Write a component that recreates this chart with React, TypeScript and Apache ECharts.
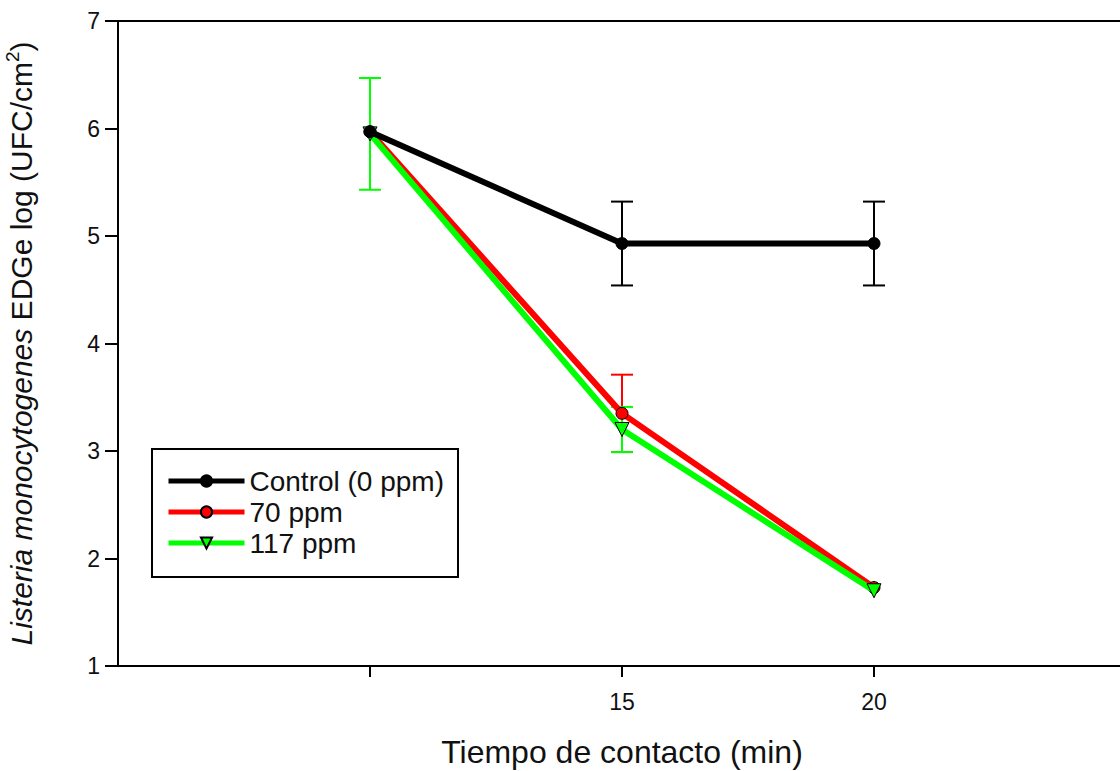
import React, { useEffect, useRef } from "react";
import * as echarts from "echarts";

const xValues = [10, 15, 20];
const controlMean = [5.97, 4.93, 4.93];
const controlErr = [0, 0.39, 0.39];
const ppm70Mean = [5.97, 3.35, 1.73];
const ppm70Err = [0, 0.36, 0];
const ppm117Mean = [5.95, 3.2, 1.7];
const ppm117Err = [0.52, 0.21, 0];
const seriesNames = ["Control (0 ppm)", "70 ppm", "117 ppm"];
const xTickValues = [10, 15, 20];
const xLabelValues = [15, 20];

const FONT = "Liberation Sans, Arial, sans-serif";
const TXT = "#111";

function errorSeries(name: string, means: number[], errs: number[], color: string, z: number) {
  const data = xValues
    .map((x, i) => [x, means[i] - errs[i], means[i] + errs[i]])
    .filter((_, i) => errs[i] > 0);
  return {
    type: "custom",
    name: name + " err",
    z,
    silent: true,
    data,
    encode: { x: 0, y: [1, 2] },
    renderItem: (params: any, api: any) => {
      const x = api.value(0);
      const lo = api.coord([x, api.value(1)]);
      const hi = api.coord([x, api.value(2)]);
      const half = 11;
      const style = { stroke: color, lineWidth: 2 };
      return {
        type: "group",
        children: [
          { type: "line", shape: { x1: lo[0], y1: lo[1], x2: hi[0], y2: hi[1] }, style },
          { type: "line", shape: { x1: lo[0] - half, y1: lo[1], x2: lo[0] + half, y2: lo[1] }, style },
          { type: "line", shape: { x1: hi[0] - half, y1: hi[1], x2: hi[0] + half, y2: hi[1] }, style },
        ],
      };
    },
  };
}

function lineSeries(name: string, means: number[], color: string, symbol: string, size: number, z: number, rotate = 0) {
  return {
    type: "line",
    name,
    z,
    data: xValues.map((x, i) => [x, means[i]]),
    symbol,
    symbolSize: size,
    symbolRotate: rotate,
    showAllSymbol: true,
    lineStyle: { color, width: 6 },
    itemStyle: { color, borderColor: "#000", borderWidth: 1, opacity: 1 },
  };
}

export default function App() {
  const ref = useRef<HTMLDivElement>(null);
  useEffect(() => {
    document.body.style.margin = "0";
    const chart = echarts.init(ref.current!, undefined, { renderer: "svg" });
    chart.setOption({
      animation: false,
      backgroundColor: "#fff",
      textStyle: { fontFamily: FONT },
      grid: {
        left: 118,
        right: -6,
        top: 21,
        bottom: 105,
        containLabel: false,
        outerBoundsMode: "none",
        show: true,
        borderColor: "#000",
        borderWidth: 2,
        backgroundColor: "transparent",
      },
      legend: {
        left: 152,
        top: 449,
        orient: "vertical",
        data: seriesNames,
        itemWidth: 76,
        itemHeight: 14,
        itemGap: 3,
        padding: [18, 14, 20, 14],
        borderColor: "#000",
        borderWidth: 2,
        backgroundColor: "#fff",
        lineStyle: { width: 5 },
        textStyle: { fontSize: 28, lineHeight: 26, color: TXT, fontFamily: FONT },
      },
      xAxis: {
        type: "value",
        min: 5,
        max: 25,
        interval: 5,
        name: "Tiempo de contacto (min)",
        nameLocation: "middle",
        nameGap: 70,
        nameTextStyle: { fontSize: 32, color: TXT, fontFamily: FONT },
        axisLine: { show: true, lineStyle: { color: "#000", width: 2 } },
        axisTick: { show: true, length: 11, customValues: xTickValues, lineStyle: { color: "#000", width: 2 } },
        axisLabel: { customValues: xLabelValues, fontSize: 23, color: TXT, margin: 24, fontFamily: FONT },
        splitLine: { show: false },
      },
      yAxis: {
        type: "value",
        min: 1,
        max: 7,
        interval: 1,
        name: "{i|Listeria monocytogenes} EDGe log (UFC/cm{s|2})",
        nameLocation: "middle",
        nameRotate: 90,
        nameGap: 78,
        nameTextStyle: {
          fontSize: 30,
          color: TXT,
          fontFamily: FONT,
          rich: {
            i: { fontSize: 30, fontStyle: "italic", color: TXT, fontFamily: FONT },
            s: { fontSize: 19, color: TXT, fontFamily: FONT, padding: [0, 0, 18, 0] },
          },
        },
        axisLine: { show: true, lineStyle: { color: "#000", width: 2 } },
        axisTick: { show: true, length: 13, lineStyle: { color: "#000", width: 2 } },
        axisLabel: { fontSize: 23, color: TXT, margin: 18, fontFamily: FONT },
        splitLine: { show: false },
      },
      series: [
        errorSeries(seriesNames[1], ppm70Mean, ppm70Err, "#ff0000", 2),
        errorSeries(seriesNames[2], ppm117Mean, ppm117Err, "#00ff00", 3),
        errorSeries(seriesNames[0], controlMean, controlErr, "#000000", 4),
        lineSeries(seriesNames[1], ppm70Mean, "#ff0000", "circle", 12, 5),
        lineSeries(seriesNames[2], ppm117Mean, "#00ff00", "triangle", 14, 6, 180),
        lineSeries(seriesNames[0], controlMean, "#000000", "circle", 12, 7),
      ],
    });
    return () => chart.dispose();
  }, []);
  return <div ref={ref} style={{ width: 1120, height: 771 }} />;
}
